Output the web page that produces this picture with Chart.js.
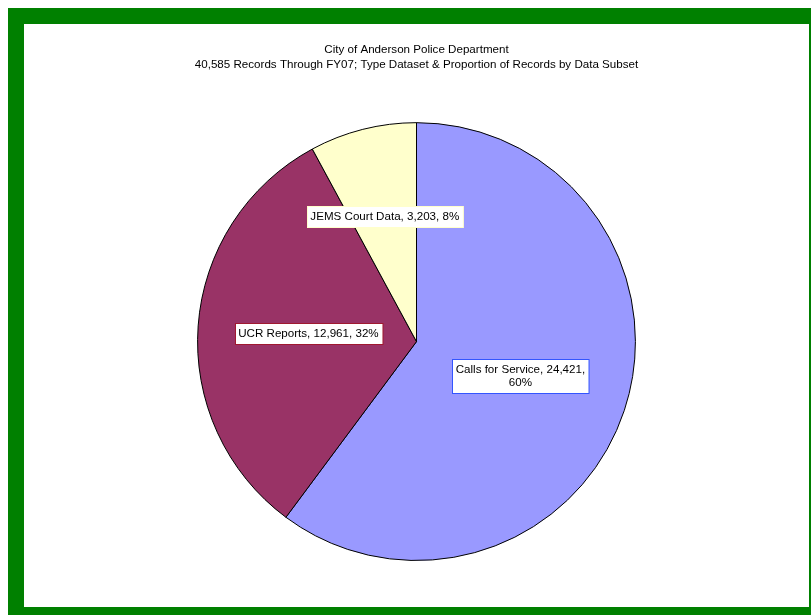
<!DOCTYPE html>
<html>
<head>
<meta charset="utf-8">
<script src="https://cdn.jsdelivr.net/npm/chart.js@4"></script>
<style>
    html, body { margin: 0; padding: 0; background: #ffffff; }
    #frame {
        position: absolute;
        left: 8px;
        top: 8px;
        width: 785px;
        height: 583px;
        border-style: solid;
        border-color: #008000;
        border-width: 16px 2px 8px 16px;
        background: #ffffff;
    }
    #pieChart { display: block; }
</style>
</head>
<body>
<div id="frame">
    <canvas id="pieChart" width="785" height="583"></canvas>
</div>
<script>
const titleLines = [
    'City of Anderson Police Department',
    '40,585 Records Through FY07; Type Dataset & Proportion of Records by Data Subset'
];
const categories = ['Calls for Service', 'UCR Reports', 'JEMS Court Data'];
const records = [24421, 12961, 3203];
const percents = ['60%', '32%', '8%'];

const sliceColors = ['#9999FF', '#993366', '#FFFFCC'];
const labelBorders = ['#3355FF', '#A01830', '#FFFFCC'];
// how far out along each slice the label sits (fraction of radius)
const labelRadius = [0.5, 0.495, 0.59];

const fmt = n => n.toLocaleString('en-US');

const sliceLabelPlugin = {
    id: 'sliceLabels',
    afterDatasetsDraw: (chart) => {
        const ctx = chart.ctx;
        const meta = chart.getDatasetMeta(0);
        ctx.save();
        ctx.font = '11.6px "Liberation Sans", Arial, sans-serif';
        ctx.textAlign = 'center';
        ctx.textBaseline = 'middle';
        meta.data.forEach((arc, i) => {
            const p = arc.getProps(['x', 'y', 'startAngle', 'endAngle', 'outerRadius']);
            const mid = (p.startAngle + p.endAngle) / 2;
            const r = p.outerRadius * labelRadius[i];
            const cx = p.x + Math.cos(mid) * r;
            const cy = p.y + Math.sin(mid) * r;

            let lines = [categories[i] + ', ' + fmt(records[i]) + ', ' + percents[i]];
            if (i === 0) {
                lines = [categories[i] + ', ' + fmt(records[i]) + ',', percents[i]];
            }
            const lh = 13;
            const w = Math.max(...lines.map(l => ctx.measureText(l).width)) + 7;
            const h = lines.length * lh + 8;
            const bx = Math.round(cx - w / 2) + 0.5;
            const by = Math.round(cy - h / 2) + 0.5;
            ctx.fillStyle = '#ffffff';
            ctx.fillRect(bx, by, w, h);
            ctx.strokeStyle = labelBorders[i];
            ctx.lineWidth = 1;
            ctx.strokeRect(bx, by, w, h);
            ctx.fillStyle = '#000000';
            lines.forEach((l, k) => {
                ctx.fillText(l, cx, by + 4 + lh / 2 + k * lh);
            });
        });
        ctx.restore();
    }
};

const pieCtx = document.getElementById('pieChart').getContext('2d');
new Chart(pieCtx, {
    type: 'pie',
    data: {
        labels: categories,
        datasets: [{
            data: records,
            backgroundColor: sliceColors,
            borderColor: '#000000',
            borderWidth: 1
        }]
    },
    options: {
        responsive: false,
        animation: false,
        layout: {
            padding: { bottom: 46 }
        },
        plugins: {
            legend: { display: false },
            tooltip: { enabled: false },
            title: {
                display: true,
                text: titleLines,
                color: '#000000',
                font: { family: '"Liberation Sans", Arial, sans-serif', size: 11.6, weight: 'normal', lineHeight: 1.3 },
                padding: { top: 18, bottom: 50 }
            }
        }
    },
    plugins: [sliceLabelPlugin]
});
</script>
</body>
</html>
